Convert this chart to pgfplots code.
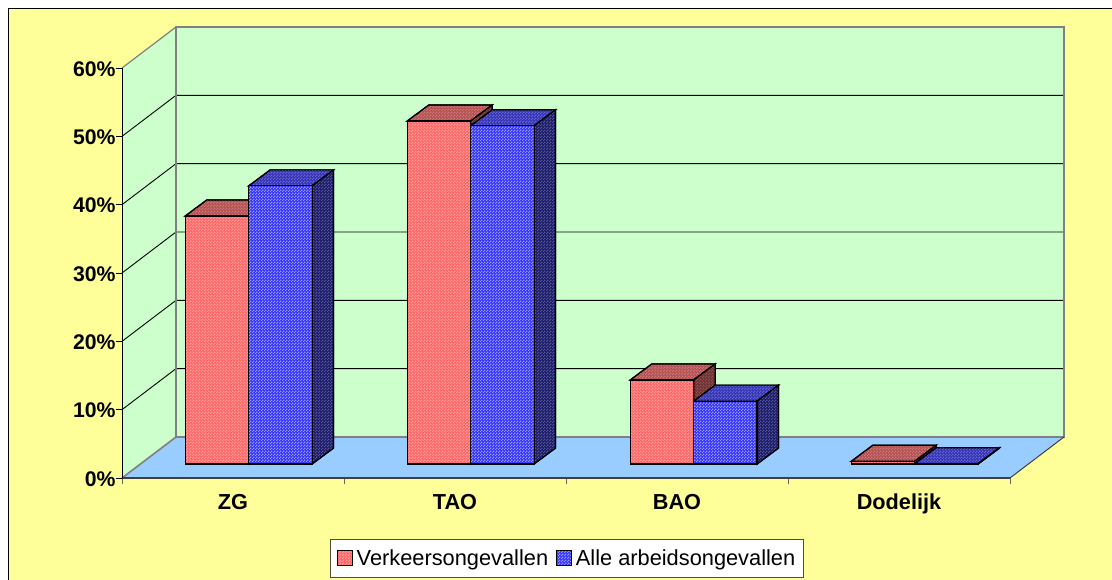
\documentclass[border=0pt]{standalone}
\usepackage{fontspec}
\setmainfont{Liberation Sans}
\usepackage{pgfplots}
\pgfplotsset{compat=1.18}
\usetikzlibrary{patterns}

% fine two-colour dither used on the bar faces
\pgfdeclarepatternformonly{dither}{\pgfqpoint{0pt}{0pt}}{\pgfqpoint{3pt}{3pt}}{\pgfqpoint{3pt}{3pt}}{%
  \pgfpathrectangle{\pgfqpoint{0pt}{0pt}}{\pgfqpoint{1.5pt}{1.5pt}}%
  \pgfpathrectangle{\pgfqpoint{1.5pt}{1.5pt}}{\pgfqpoint{1.5pt}{1.5pt}}%
  \pgfusepath{fill}}

\definecolor{chartbg}{HTML}{FFFF99}
\definecolor{wall}{HTML}{CCFFCC}
\definecolor{floorc}{HTML}{99CCFF}
\definecolor{wallline}{HTML}{808080}
\definecolor{redF}{HTML}{FF6666}\definecolor{redFd}{HTML}{FF9C9C}
\definecolor{redT}{HTML}{B35050}\definecolor{redTd}{HTML}{CC7878}
\definecolor{redS}{HTML}{6B3030}\definecolor{redSd}{HTML}{945050}
\definecolor{bluF}{HTML}{3333FF}\definecolor{bluFd}{HTML}{9999FF}
\definecolor{bluT}{HTML}{3333B8}\definecolor{bluTd}{HTML}{6666CC}
\definecolor{bluS}{HTML}{1A1A66}\definecolor{bluSd}{HTML}{55559A}

\tikzset{
  dface/.style 2 args={fill=#1,postaction={pattern=dither,pattern color=#2}},
}

% depth of a bar, in category units and percentage points
\def\bdx{0.0968}
\def\bdy{2.34}
\def\bw{0.2856}

% top and side face of the bar whose left front edge is at #1 and whose value is #2
\newcommand\barfaces[4]{%
  \pgfmathsetmacro\xa{#1}%
  \pgfmathsetmacro\xb{#1+\bw}%
  \pgfmathsetmacro\xc{#1+\bw+\bdx}%
  \pgfmathsetmacro\xd{#1+\bdx}%
  \pgfmathsetmacro\yt{#2}%
  \pgfmathsetmacro\yu{#2+\bdy}%
  \addplot[forget plot,black,line width=1.2pt,line join=miter,#3]
    coordinates {(\xa,\yt)(\xb,\yt)(\xc,\yu)(\xd,\yu)(\xa,\yt)(\xb,\yt)};
  \addplot[forget plot,black,line width=1.2pt,line join=miter,#4]
    coordinates {(\xb,\yt)(\xc,\yu)(\xc,\bdy)(\xb,0)(\xb,\yt)(\xc,\yu)};
}

\begin{document}
\begin{tikzpicture}[x=1pt,y=1pt]
\clip (0,0) rectangle (1112,579);
\fill[white] (0,0) rectangle (1112,579);
\filldraw[fill=chartbg,draw=black,line width=1.2pt] (8.5,-5) rectangle (1120,570.5);

% walls, floor and value axis
\begin{axis}[
  at={(122pt,101pt)},anchor=origin,
  scale only axis,width=888pt,height=410pt,
  xmin=0,xmax=4,ymin=0,ymax=60,
  clip=false,axis on top,
  axis x line=bottom,axis y line=left,
  axis line style={-,black},
  x axis line style={line width=1.6pt,color=black!75},
  y axis line style={line width=1pt},
  tick align=outside,major tick length=6pt,
  ytick={0,10,20,30,40,50,60},
  yticklabels={0\%,10\%,20\%,30\%,40\%,50\%,60\%},
  xtick={0,1,2,3,4},
  x tick label as interval,
  xticklabels={ZG,TAO,BAO,Dodelijk},
  every tick/.style={black,line width=0.8pt},
  x tick style={black!60,line width=1pt},
  tick label style={font=\fontsize{21.2}{24}\selectfont\bfseries},
  y tick label style={xshift=3pt,yshift=-1pt},
  x tick label style={yshift=-6.5pt,font=\fontsize{21.7}{24}\selectfont\bfseries},
]
\addplot[forget plot,fill=wall,draw=none] coordinates {(0.2432,6)(4.2432,6)(4.2432,66)(0.2432,66)(0.2432,6)};
\addplot[forget plot,fill=wall,draw=none] coordinates {(0,0)(0.2432,6)(0.2432,66)(0,60)(0,0)};
\addplot[forget plot,fill=floorc,draw=none] coordinates {(0,0)(4,0)(4.2432,6)(0.2432,6)(0,0)};
% gridlines along the side wall and the back wall
\addplot[forget plot,black,line width=0.9pt] coordinates {(0,10)(0.2432,16)(4.2432,16)};
\addplot[forget plot,black,line width=0.9pt] coordinates {(0,20)(0.2432,26)(4.2432,26)};
\addplot[forget plot,black,line width=0.9pt] coordinates {(0,30)(0.2432,36)(4.2432,36)};
\addplot[forget plot,black,line width=0.9pt] coordinates {(0,40)(0.2432,46)(4.2432,46)};
\addplot[forget plot,black,line width=0.9pt] coordinates {(0,50)(0.2432,56)(4.2432,56)};
% wall outlines
\addplot[forget plot,wallline,line width=1.6pt,line join=miter] coordinates {(0,0)(0.2432,6)(4.2432,6)(4.2432,66)(0.2432,66)(0.2432,6)};
\addplot[forget plot,wallline,line width=1.2pt] coordinates {(0,60)(0.2432,66)};
\addplot[forget plot,black!80,line width=0.9pt] coordinates {(4,0)(4.2432,6)};
\end{axis}

% bars, standing on a plane set back from the front edge of the floor
\begin{axis}[
  at={(140.9pt,115pt)},anchor=origin,
  scale only axis,width=888pt,height=410pt,
  xmin=0,xmax=4,ymin=0,ymax=60,
  clip=false,hide axis,
  legend columns=2,
  legend cell align=left,
  legend style={
    at={(0.2124,-0.1841)},anchor=north west,
    draw=black!70,line width=1pt,fill=white,
    font=\fontsize{21.8}{24}\selectfont,
    inner xsep=6.5pt,inner ysep=8.2pt,
    /tikz/every even column/.append style={column sep=5.5pt},
  },
  legend image code/.code={\draw[#1,line width=1.2pt] (0pt,-7pt) rectangle (15pt,8pt);\path (17pt,0pt);},
]
\barfaces{0.2}{36.3}{dface={redT}{redTd}}{dface={redS}{redSd}}
\barfaces{0.4856}{40.7}{dface={bluT}{bluTd}}{dface={bluS}{bluSd}}
\barfaces{1.2}{50.2}{dface={redT}{redTd}}{dface={redS}{redSd}}
\barfaces{1.4856}{49.5}{dface={bluT}{bluTd}}{dface={bluS}{bluSd}}
\barfaces{2.2044}{12.3}{dface={redT}{redTd}}{dface={redS}{redSd}}
\barfaces{2.49}{9.2}{dface={bluT}{bluTd}}{dface={bluS}{bluSd}}
\barfaces{3.2}{0.4}{dface={redT}{redTd}}{dface={redS}{redSd}}
\barfaces{3.4856}{0.05}{dface={bluT}{bluTd}}{dface={bluS}{bluSd}}

\addplot[ybar,bar width=63.4pt,bar shift=-31.7pt,black,line width=1.2pt,dface={redF}{redFd}]
  coordinates {(0.4856,36.3)(1.4856,50.2)(2.49,12.3)(3.4856,0.4)};
\addplot[ybar,bar width=63.4pt,bar shift=31.7pt,black,line width=1.2pt,dface={bluF}{bluFd}]
  coordinates {(0.4856,40.7)(1.4856,49.5)(2.49,9.2)(3.4856,0.05)};
\legend{Verkeersongevallen,Alle arbeidsongevallen\hspace{1pt}}
\end{axis}
\end{tikzpicture}
\end{document}
